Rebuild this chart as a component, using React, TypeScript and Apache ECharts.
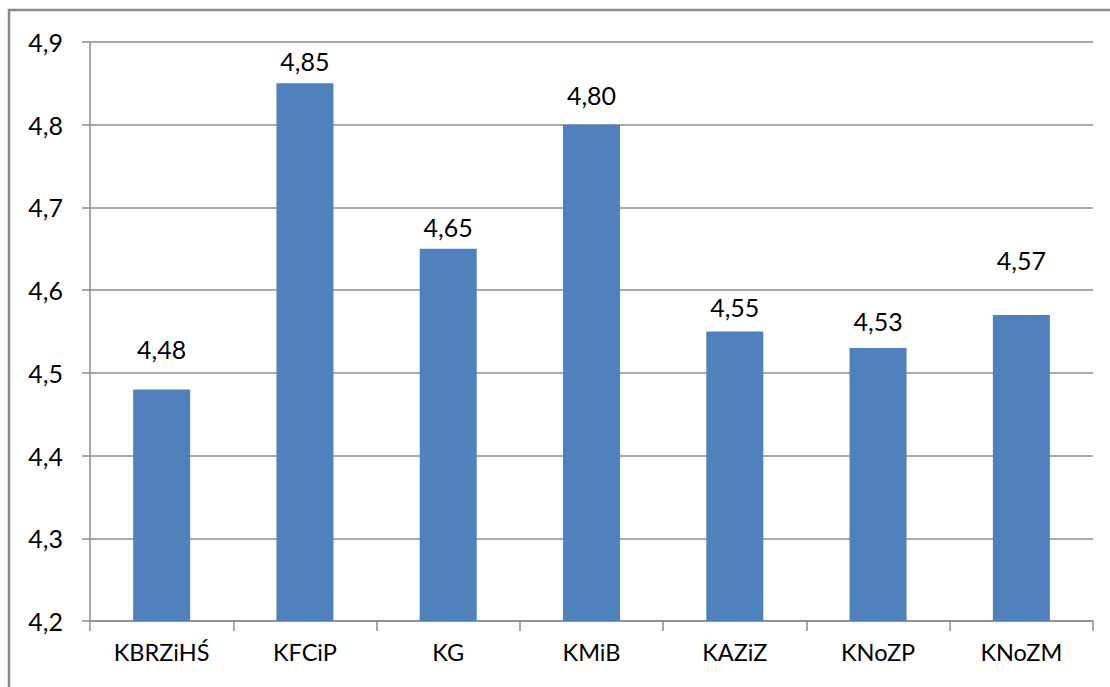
import React, { useEffect, useRef } from "react";
import * as echarts from "echarts";

const categories = ["KBRZiHŚ", "KFCiP", "KG", "KMiB", "KAZiZ", "KNoZP", "KNoZM"];
const values = [4.48, 4.85, 4.65, 4.8, 4.55, 4.53, 4.57];
const yMin = 4.2;
const yMax = 4.9;
const yStep = 0.1;
// label gap above each bar (style only)
const labelDistances = [28, 10, 9, 17, 12, 15, 42];

export default function App() {
  const ref = useRef<HTMLDivElement>(null);
  useEffect(() => {
    if (!ref.current) return;
    const chart = echarts.init(ref.current, null, { renderer: "svg" });
    const font = "Lato, 'Open Sans', sans-serif";
    chart.setOption({
      animation: false,
      backgroundColor: "#ffffff",
      grid: { left: 90, right: 17, top: 42, bottom: 66, containLabel: false },
      graphic: [
        {
          type: "rect",
          shape: { x: 9, y: 10, width: 1200, height: 800 },
          style: { fill: "none", stroke: "#8a8a8a", lineWidth: 2.5 },
          silent: true,
        },
      ],
      xAxis: {
        type: "category",
        data: categories,
        axisLine: { lineStyle: { color: "#8c8c8c", width: 1.5 } },
        axisTick: { show: true, alignWithLabel: false, length: 10, lineStyle: { color: "#8c8c8c", width: 1.5 } },
        axisLabel: { color: "#000", fontSize: 23.5, fontFamily: font, margin: 19 },
      },
      yAxis: {
        type: "value",
        min: yMin,
        max: yMax,
        interval: yStep,
        axisLine: { show: true, lineStyle: { color: "#8c8c8c", width: 1.5 } },
        axisTick: { show: true, length: 8, lineStyle: { color: "#8c8c8c", width: 1.5 } },
        splitLine: { show: true, lineStyle: { color: "#8c8c8c", width: 1.5 } },
        axisLabel: {
          color: "#000",
          fontSize: 25,
          fontFamily: font,
          margin: 27,
          formatter: (v: number) => v.toFixed(1).replace(".", ","),
        },
      },
      series: [
        {
          type: "bar",
          data: values.map((v, i) => ({ value: v, label: { distance: labelDistances[i] } })),
          barWidth: 57,
          itemStyle: { color: "#4F81BD" },
          label: {
            show: true,
            position: "top",
            color: "#000",
            fontSize: 25,
            fontFamily: font,
            formatter: (p: any) => Number(p.value).toFixed(2).replace(".", ","),
          },
        },
      ],
    });
    return () => chart.dispose();
  }, []);
  return (
    <div
      ref={ref}
      style={{ position: "absolute", left: 0, top: 0, width: 1110, height: 687 }}
    />
  );
}
